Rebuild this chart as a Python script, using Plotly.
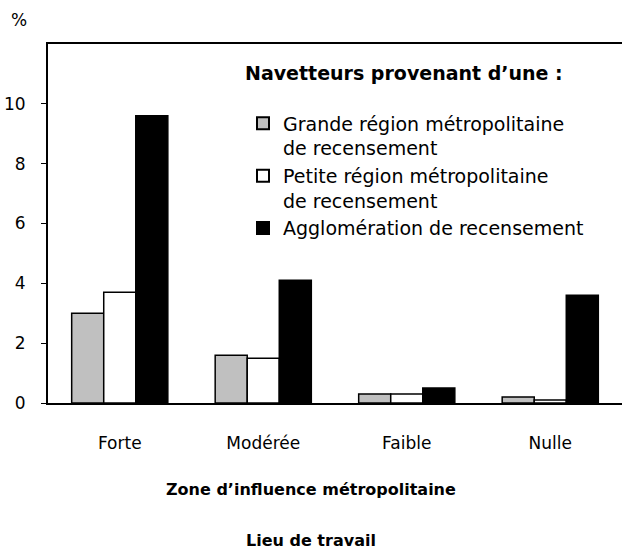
import plotly.graph_objects as go

categories = ["Forte", "Modérée", "Faible", "Nulle"]
series_names = [
    "Grande région métropolitaine<br>de recensement",
    "Petite région métropolitaine<br>de recensement",
    "Agglomération de recensement",
]
grande = [3.0, 1.6, 0.3, 0.2]
petite = [3.7, 1.5, 0.3, 0.1]
agglo = [9.6, 4.1, 0.5, 3.6]
series_values = [grande, petite, agglo]
series_colors = ["#c0c0c0", "#ffffff", "#000000"]
y_ticks = [0, 2, 4, 6, 8, 10]

FONT = "DejaVu Sans"
W, H = 622, 550
ML, MR, MT, MB = 48, 0, 44, 147

fig = go.Figure()
for i, (name, vals, col) in enumerate(zip(series_names, series_values, series_colors)):
    fig.add_trace(go.Bar(
        x=categories, y=vals, name=name, legendgroup=f"g{i}",
        marker=dict(color=col, line=dict(color="black", width=1.5)),
    ))

plot_w = W - ML - MR
plot_h = H - MT - MB
def paper_x(px):
    return (px - ML) / plot_w
def paper_y(py):
    return 1 - (py - MT) / plot_h

fig.update_layout(
    width=W, height=H,
    margin=dict(l=ML, r=MR, t=MT, b=MB, pad=0),
    paper_bgcolor="white", plot_bgcolor="white",
    font=dict(family=FONT, size=17, color="black"),
    barmode="group", bargap=0.33, bargroupgap=0,
    showlegend=True,
    legend=dict(
        x=paper_x(243), y=paper_y(55), xanchor="left", yanchor="top",
        bgcolor="rgba(0,0,0,0)", valign="top",
        font=dict(family=FONT, size=19),
        title=dict(text="<b>Navetteurs provenant d’une :</b><br> ",
                   font=dict(family=FONT, size=19)),
        itemsizing="constant", tracegroupgap=0,
    ),
    xaxis=dict(
        showline=True, linecolor="black", linewidth=2, mirror=True,
        ticks="", showgrid=False, zeroline=False,
        tickfont=dict(family=FONT, size=17),
        ticklabelstandoff=24,
    ),
    yaxis=dict(
        range=[0, 12], tickvals=y_ticks, ticktext=[str(v) for v in y_ticks],
        showline=True, linecolor="black", linewidth=2, mirror=False,
        ticks="outside", ticklen=5, tickwidth=1, tickcolor="black",
        showgrid=False, zeroline=False,
        tickfont=dict(family=FONT, size=17),
        ticklabelstandoff=12,
    ),
    annotations=[
        dict(text="%", xref="paper", yref="paper", x=paper_x(9), y=paper_y(20),
             xanchor="left", yanchor="middle", showarrow=False, font=dict(family=FONT, size=17)),
        dict(text="<b>Zone d’influence métropolitaine</b>", xref="paper", yref="paper",
             x=paper_x(311), y=paper_y(490),
             xanchor="center", yanchor="middle", showarrow=False, font=dict(family=FONT, size=16)),
        dict(text="<b>Lieu de travail</b>", xref="paper", yref="paper",
             x=paper_x(311), y=paper_y(540),
             xanchor="center", yanchor="middle", showarrow=False, font=dict(family=FONT, size=16)),
    ],
)

fig.write_html("out.html", config={"displayModeBar": False},
               post_script="document.body.style.margin='0';document.body.style.overflow='hidden';")
